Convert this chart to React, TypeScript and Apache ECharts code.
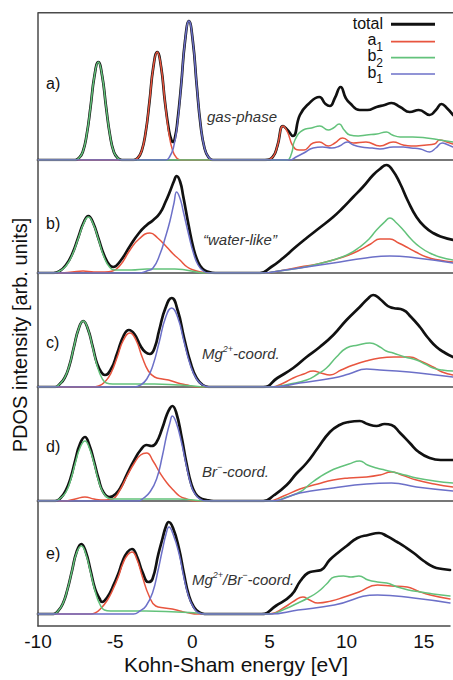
import React, { useEffect, useRef } from 'react';
import * as echarts from 'echarts';

type P = [number, number][];

// ---------- data (energy [eV], intensity [arb. units]) ----------
const X_TICKS = [-10, -5, 0, 5, 10, 15];
const LEGEND_NAMES = ['total', 'a₁', 'b₂', 'b₁'];
const LEGEND_LABELS = ['total', 'a{sub|1}', 'b{sub|2}', 'b{sub|1}'];
const PANEL_LETTERS = ['a)', 'b)', 'c)', 'd)', 'e)'];
const PANEL_NAMES = ['gas-phase', '“water-like”', 'Mg{sup|2+}-coord.', 'Br{sup|−}-coord.', 'Mg{sup|2+}/Br{sup|−}-coord.'];

// panel a) gas-phase
const A_TOTAL: P = [[-10,0],[-7.6,0],[-7.37,2],[-7.12,8],[-6.87,25],[-6.62,53],[-6.37,84],[-6.12,98],[-5.87,84],[-5.62,53],[-5.37,25],[-5.12,8],[-4.87,2],[-4.6,0],[-3.85,0],[-3.58,2],[-3.33,9],[-3.08,27],[-2.83,58],[-2.58,93],[-2.33,108],[-2.08,93],[-1.83,58],[-1.58,30],[-1.42,20],[-1.31,18],[-1.18,23],[-1.04,37],[-0.79,75],[-0.54,119],[-0.29,139],[-0.04,119],[0.21,75],[0.46,35],[0.71,12],[0.96,3],[1.25,0],[4.6,0],[5.1,3],[5.4,14],[5.77,34],[6.05,30],[6.4,24],[6.85,45],[7.4,56],[8.1,63],[8.5,56],[8.78,54],[9.1,62],[9.47,73],[9.8,62],[10.06,57],[10.7,50],[11.2,50],[11.78,53],[12.3,55],[12.74,57],[13.3,53],[13.92,48],[14.5,50],[15.2,45],[15.6,50],[15.96,56],[16.3,52],[16.7,45]];
const A_A1: P = [[-10,0],[-3.85,0],[-3.58,2],[-3.33,9],[-3.08,27],[-2.83,58],[-2.58,93],[-2.33,108],[-2.08,93],[-1.83,58],[-1.58,27],[-1.33,9],[-1.08,2],[-0.8,0],[4.6,0],[5.1,3],[5.4,14],[5.77,34],[6.05,28],[6.4,14],[6.8,10],[7.1,10],[7.7,17],[8.1,18],[8.67,14],[9.1,17],[9.6,22],[10.28,17],[11.1,18],[12.0,14],[12.85,18],[13.5,15],[14.0,14],[15.0,15],[15.5,16],[15.85,20],[16.3,18],[16.7,16]];
const A_B2: P = [[-10,0],[-7.6,0],[-7.37,2],[-7.12,8],[-6.87,25],[-6.62,53],[-6.37,84],[-6.12,98],[-5.87,84],[-5.62,53],[-5.37,25],[-5.12,8],[-4.87,2],[-4.6,0],[6.0,0],[6.3,6],[6.53,20],[7.06,30],[7.6,32],[8.13,34],[8.67,30],[9.0,32],[9.38,36],[9.7,30],[10.06,25],[10.6,24],[11.14,25],[11.8,26],[12.42,28],[12.8,25],[13.3,23],[14.1,23],[15.0,22],[15.85,20],[16.7,18]];
const A_B1: P = [[-10,0],[-1.8,0],[-1.54,3],[-1.29,12],[-1.04,35],[-0.79,75],[-0.54,119],[-0.29,139],[-0.04,119],[0.21,75],[0.46,35],[0.71,12],[0.96,3],[1.25,0],[6.2,0],[6.6,3],[7.1,7],[7.7,12],[8.3,13],[8.9,12],[9.4,14],[9.9,18],[10.3,15],[10.8,13],[11.5,12],[12.0,11],[12.85,13],[13.5,13],[14.0,12],[14.6,11],[15.2,8],[15.6,12],[16.0,17],[16.4,15],[16.7,13]];

// panel b) water-like
const B_TOTAL: P = [[-10,0],[-9.0,0],[-8.6,2],[-8.2,8],[-7.8,19],[-7.4,36],[-7.05,51],[-6.76,57],[-6.45,50],[-6.1,34],[-5.75,18],[-5.4,8],[-5.16,6],[-4.7,12],[-4.08,27],[-3.5,40],[-3.0,48],[-2.58,53],[-2.15,60],[-1.8,71],[-1.5,82],[-1.25,92],[-1.08,97],[-0.85,91],[-0.66,77],[-0.3,47],[0.0,25],[0.3,11],[0.6,4],[1.0,1],[1.4,0],[4.28,0],[5.0,6],[5.77,15],[6.5,25],[7.28,35],[8.1,45],[8.99,56],[9.6,65],[10.28,76],[10.9,86],[11.56,98],[12.0,104],[12.42,108],[12.8,103],[13.28,90],[13.8,72],[14.35,56],[14.9,46],[15.42,40],[16.0,36],[16.7,33]];
const B_A1: P = [[-10,0],[-8.5,0],[-7.8,1],[-7.1,2],[-6.4,1],[-5.7,1],[-5.2,2],[-4.7,8],[-4.08,23],[-3.5,34],[-2.8,40],[-2.3,35],[-1.72,26],[-1.3,19],[-0.87,13],[-0.4,6],[0.0,3],[0.5,1],[1.0,0],[4.5,0],[5.5,2],[6.85,6],[8.0,9],[8.99,13],[10.0,18],[10.7,23],[11.4,29],[12.0,34],[12.64,34],[13.2,30],[13.71,26],[14.3,21],[15.0,16],[15.8,13],[16.7,11]];
const B_B2: P = [[-10,0],[-9.0,0],[-8.6,2],[-8.2,7],[-7.8,18],[-7.4,35],[-7.05,50],[-6.76,56],[-6.45,49],[-6.1,33],[-5.75,16],[-5.4,6],[-5.0,3],[-4.0,3],[-3.0,4],[-2.0,4],[-1.2,4],[-0.5,3],[0.2,1],[0.8,0],[4.5,0],[5.5,2],[6.85,5],[8.0,9],[8.99,13],[10.0,19],[10.7,26],[11.3,34],[11.78,43],[12.3,51],[12.64,55],[13.0,51],[13.5,43],[14.0,34],[14.57,26],[15.2,20],[15.85,16],[16.7,13]];
const B_B1: P = [[-10,0],[-3.5,0],[-3.0,2],[-2.6,5],[-2.15,19],[-1.8,36],[-1.51,52],[-1.25,70],[-1.08,81],[-0.85,74],[-0.66,62],[-0.3,38],[0.0,20],[0.3,8],[0.63,2],[1.0,0],[4.5,0],[5.5,2],[6.85,5],[9.0,10],[11.1,15],[12.64,17],[14.35,15],[16.7,10]];

// panel c) Mg2+-coord.
const C_TOTAL: P = [[-10,0],[-8.9,0],[-8.6,3],[-8.29,9],[-7.99,21],[-7.69,40],[-7.39,58],[-7.09,66],[-6.79,58],[-6.49,41],[-6.19,23],[-5.89,14],[-5.7,12],[-5.3,18],[-4.9,34],[-4.5,51],[-4.15,57],[-3.8,53],[-3.4,41],[-3.1,35],[-2.8,33],[-2.5,39],[-2.2,57],[-1.8,79],[-1.4,89],[-1.0,76],[-0.6,49],[-0.2,25],[0.2,9],[0.6,2],[1.0,0],[4.49,0],[5.4,9],[6.42,19],[7.28,30],[8.13,40],[9.0,52],[9.85,67],[10.7,80],[11.2,88],[11.56,92],[12.0,88],[12.5,81],[12.85,79],[13.5,77],[14.0,70],[14.57,60],[15.1,49],[15.64,40],[16.2,34],[16.7,30]];
const C_A1: P = [[-10,0],[-6.5,0],[-6.1,1],[-5.7,5],[-5.3,14],[-4.9,30],[-4.5,47],[-4.08,54],[-3.7,47],[-3.3,30],[-2.9,16],[-2.5,10],[-2.0,8],[-1.6,7],[-1.0,4],[-0.4,2],[0.2,0],[5.0,0],[5.8,4],[6.42,9],[7.1,13],[7.7,16],[8.2,14],[8.78,12],[9.5,17],[10.28,22],[11.1,26],[12.0,29],[12.9,30],[13.92,30],[14.6,26],[15.42,20],[16.0,15],[16.7,12]];
const C_B2: P = [[-10,0],[-8.9,0],[-8.6,3],[-8.29,9],[-7.99,21],[-7.69,40],[-7.39,58],[-7.09,66],[-6.79,58],[-6.49,40],[-6.19,21],[-5.89,9],[-5.6,4],[-5.2,3],[-4.0,3],[-2.5,3],[-1.0,2],[0.0,1],[0.6,0],[5.0,0],[6.2,3],[7.28,7],[8.0,13],[8.56,19],[9.2,30],[9.85,39],[10.6,42],[11.35,44],[12.0,40],[12.4,36],[12.85,34],[13.6,30],[14.35,27],[14.9,23],[15.42,19],[16.0,17],[16.7,16]];
const C_B1: P = [[-10,0],[-3.8,0],[-3.4,2],[-3.0,8],[-2.6,22],[-2.2,45],[-1.8,69],[-1.4,79],[-1.0,69],[-0.6,45],[-0.2,22],[0.2,8],[0.6,2],[1.0,0],[5.0,0],[6.85,4],[9.0,9],[10.0,13],[11.14,18],[12.0,17],[13.07,16],[14.5,14],[16.7,10]];

// panel d) Br−-coord.
const D_TOTAL: P = [[-10,0],[-8.9,0],[-8.55,3],[-8.2,11],[-7.9,23],[-7.6,41],[-7.3,57],[-6.98,64],[-6.7,56],[-6.4,40],[-6.1,22],[-5.8,9],[-5.4,4],[-5.0,7],[-4.6,16],[-4.3,26],[-3.8,41],[-3.4,51],[-3.01,56],[-2.7,55],[-2.4,58],[-2.0,73],[-1.72,86],[-1.5,93],[-1.36,95],[-1.1,88],[-0.76,64],[-0.45,38],[-0.12,16],[0.15,7],[0.42,3],[0.85,1],[1.3,0],[4.49,0],[5.2,6],[6.0,16],[6.6,27],[7.28,38],[8.0,53],[8.78,69],[9.4,76],[10.0,79],[10.7,80],[11.2,77],[11.78,75],[12.3,77],[12.74,76],[13.3,68],[13.92,58],[14.5,49],[15.2,43],[15.9,41],[16.7,41]];
const D_A1: P = [[-10,0],[-8.3,0],[-7.6,2],[-6.98,4],[-6.4,2],[-5.7,1],[-5.2,2],[-4.8,9],[-4.3,24],[-3.8,38],[-3.4,46],[-3.01,48],[-2.6,40],[-2.15,28],[-1.7,18],[-1.3,11],[-0.9,5],[-0.44,2],[0.1,0],[4.8,0],[5.8,5],[6.85,12],[8.0,17],[8.99,21],[10.0,23],[11.14,24],[12.0,26],[12.74,29],[13.4,26],[14.35,21],[15.5,17],[16.7,14]];
const D_B2: P = [[-10,0],[-8.9,0],[-8.55,3],[-8.2,9],[-7.9,21],[-7.6,38],[-7.3,53],[-6.98,60],[-6.7,53],[-6.4,38],[-6.1,20],[-5.8,8],[-5.5,3],[-5.2,2],[-3.0,2],[-1.0,2],[0.0,1],[0.6,0],[5.0,0],[6.0,4],[6.85,9],[7.5,17],[8.13,24],[8.8,30],[9.42,34],[10.0,37],[10.7,40],[11.2,36],[11.78,33],[12.3,31],[12.85,29],[13.6,26],[14.35,23],[15.5,20],[16.7,18]];
const D_B1: P = [[-10,0],[-3.6,0],[-3.2,3],[-2.8,9],[-2.37,22],[-2.0,45],[-1.72,66],[-1.5,79],[-1.36,85],[-1.1,78],[-0.76,58],[-0.45,35],[-0.12,14],[0.15,6],[0.42,2],[0.8,0],[5.0,0],[6.85,8],[8.99,13],[11.14,17],[12.74,18],[14.35,14],[16.7,10]];

// panel e) Mg2+/Br−-coord.
const E_TOTAL: P = [[-10,0],[-9.0,0],[-8.7,3],[-8.4,10],[-8.1,24],[-7.8,43],[-7.5,62],[-7.19,70],[-6.9,62],[-6.6,44],[-6.3,25],[-6.0,15],[-5.85,12],[-5.5,17],[-5.16,27],[-4.8,40],[-4.51,53],[-4.2,62],[-3.91,65],[-3.6,58],[-3.23,42],[-2.84,32],[-2.58,35],[-2.2,60],[-1.94,75],[-1.7,88],[-1.53,92],[-1.25,86],[-0.87,66],[-0.55,41],[-0.23,19],[0.1,7],[0.42,2],[0.8,0],[4.49,0],[5.4,8],[6.42,19],[7.0,33],[7.49,41],[8.0,43],[8.35,44],[8.9,54],[9.42,61],[10.0,68],[10.7,76],[11.4,79],[12.1,81],[12.6,78],[13.28,72],[13.8,67],[14.35,61],[15.0,53],[15.64,47],[16.2,45],[16.7,44]];
const E_A1: P = [[-10,0],[-6.6,0],[-6.3,1],[-5.9,6],[-5.5,14],[-5.16,24],[-4.8,37],[-4.51,50],[-4.2,59],[-3.91,62],[-3.6,55],[-3.23,37],[-2.8,18],[-2.37,8],[-1.8,6],[-1.3,5],[-0.8,3],[-0.2,1],[0.3,0],[5.0,0],[6.0,7],[6.6,13],[7.17,17],[7.6,14],[8.13,11],[9.0,13],[9.85,17],[10.8,22],[12.0,29],[12.9,28],[13.92,27],[14.6,23],[15.42,19],[16.7,15]];
const E_B2: P = [[-10,0],[-9.0,0],[-8.7,3],[-8.4,10],[-8.1,24],[-7.8,43],[-7.5,61],[-7.19,68],[-6.9,60],[-6.6,42],[-6.3,23],[-6.0,10],[-5.7,4],[-5.3,3],[-3.0,3],[-1.0,2],[0.3,1],[0.8,0],[5.0,0],[6.0,5],[6.85,11],[7.5,16],[8.13,22],[8.7,30],[9.2,37],[9.8,38],[10.28,37],[10.8,38],[11.4,34],[12.0,32],[12.6,31],[13.28,27],[14.0,24],[14.78,22],[15.6,20],[16.7,18]];
const E_B1: P = [[-10,0],[-3.8,0],[-3.4,3],[-3.0,8],[-2.58,21],[-2.2,45],[-1.94,64],[-1.7,80],[-1.51,87],[-1.25,80],[-0.87,61],[-0.55,37],[-0.23,17],[0.1,6],[0.42,1],[0.8,0],[5.0,0],[6.85,4],[9.2,9],[12.0,19],[14.35,16],[16.7,11]];

const PANEL_DATA: P[][] = [
  [A_TOTAL, A_A1, A_B2, A_B1],
  [B_TOTAL, B_A1, B_B2, B_B1],
  [C_TOTAL, C_A1, C_B2, C_B1],
  [D_TOTAL, D_A1, D_B2, D_B1],
  [E_TOTAL, E_A1, E_B2, E_B1],
];

// ---------- layout & style ----------
const FONT = '"Liberation Sans", Arial, Helvetica, sans-serif';
const LEFT = 38;
const PANEL_TOP = [12.7, 160, 273, 387, 501];
const PANEL_BOTTOM = [160, 273, 387, 501, 626];
const PANEL_YMIN = [0, 0, 0, 0, -12];
const LETTER_Y = [83, 223, 342, 446, 553];
const NAME_POS: [number, number][] = [[207, 116], [203, 239], [202, 353], [202, 471], [192, 579]];
const COLORS = ['#111111', '#e8553f', '#63c27b', '#6c70c8'];
const WIDTHS = [2.7, 1.5, 1.5, 1.5];
const FRAME = '#4a4a4a';
const LEGEND_Y = [24.3, 41.7, 57.7, 74];

function buildOption(): echarts.EChartsOption {
  const grid: any[] = [];
  const xAxis: any[] = [];
  const yAxis: any[] = [];
  const series: any[] = [];
  for (let i = 0; i < 5; i++) {
    const h = PANEL_BOTTOM[i] - PANEL_TOP[i];
    grid.push({ left: LEFT, right: 0, top: PANEL_TOP[i], height: h });
    xAxis.push({
      type: 'value', gridIndex: i, min: -10, max: 16.7, interval: 5,
      axisLine: { show: true, onZero: false, lineStyle: { color: FRAME, width: 1.5 } },
      axisTick: { show: false }, splitLine: { show: false },
      axisLabel: {
        show: i === 4, margin: 6, color: '#111', fontSize: 19, fontFamily: FONT,
        formatter: (v: number) => (X_TICKS.includes(v) ? String(v) : ''),
      },
    });
    yAxis.push({
      type: 'value', gridIndex: i, min: PANEL_YMIN[i], max: PANEL_YMIN[i] + h,
      axisLine: { show: true, onZero: false, lineStyle: { color: FRAME, width: 1.5 } },
      axisTick: { show: false }, splitLine: { show: false }, axisLabel: { show: false },
    });
    PANEL_DATA[i].forEach((d, k) => {
      series.push({
        type: 'line', name: LEGEND_NAMES[k], xAxisIndex: i, yAxisIndex: i,
        data: d, smooth: 0.5, showSymbol: false, symbol: 'none',
        lineStyle: { color: COLORS[k], width: WIDTHS[k], join: 'round', cap: 'round' }, z: 2 + k, silent: true,
      });
    });
  }

  const graphics: any[] = [
    { type: 'line', shape: { x1: LEFT, y1: PANEL_TOP[0], x2: 453, y2: PANEL_TOP[0] }, style: { stroke: FRAME, lineWidth: 1.5 } },
    {
      type: 'text', x: 20, y: 335, rotation: Math.PI / 2,
      style: { text: 'PDOS intensity [arb. units]', fontSize: 20, fontFamily: FONT, fill: '#111', textAlign: 'center', textVerticalAlign: 'middle' },
    },
    {
      type: 'text', x: 236, y: 664,
      style: { text: 'Kohn-Sham energy [eV]', fontSize: 21, fontFamily: FONT, fill: '#111', textAlign: 'center', textVerticalAlign: 'middle' },
    },
  ];
  for (let i = 0; i < 5; i++) {
    graphics.push({
      type: 'text', x: 46, y: LETTER_Y[i],
      style: { text: PANEL_LETTERS[i], fontSize: 16, fontFamily: FONT, fill: '#111', textAlign: 'left', textVerticalAlign: 'middle' },
    });
    graphics.push({
      type: 'text', x: NAME_POS[i][0], y: NAME_POS[i][1],
      style: {
        text: PANEL_NAMES[i], fontSize: 15, fontStyle: 'italic', fontFamily: FONT, fill: '#333',
        textAlign: 'left', textVerticalAlign: 'middle',
        rich: {
          sup: { fontSize: 9, fontStyle: 'italic', fontFamily: FONT, fill: '#333', verticalAlign: 'top', lineHeight: 18 },
        },
        lineHeight: 18,
      },
    });
  }
  LEGEND_LABELS.forEach((n, k) => {
    graphics.push({
      type: 'text', x: 383, y: LEGEND_Y[k] - (k === 0 ? 1 : 2),
      style: {
        text: n, fontSize: 16, fontFamily: FONT, fill: '#111', textAlign: 'right', textVerticalAlign: 'middle',
        lineHeight: 18,
        rich: { sub: { fontSize: 12, fontFamily: FONT, fill: '#111', verticalAlign: 'bottom', lineHeight: 14, padding: [0, 0, -4, 0] } },
      },
    });
    graphics.push({
      type: 'line', shape: { x1: 391, y1: LEGEND_Y[k], x2: 435, y2: LEGEND_Y[k] },
      style: { stroke: COLORS[k], lineWidth: WIDTHS[k] + 0.2 },
    });
  });

  return { animation: false, backgroundColor: '#ffffff', grid, xAxis, yAxis, series, graphic: graphics };
}

export default function App() {
  const ref = useRef<HTMLDivElement>(null);
  useEffect(() => {
    if (!ref.current) return;
    const chart = echarts.init(ref.current, null, { renderer: 'svg' });
    chart.setOption(buildOption());
    return () => chart.dispose();
  }, []);
  return (
    <div
      ref={ref}
      style={{ position: 'fixed', left: 0, top: 0, width: 453, height: 680, background: '#fff' }}
    />
  );
}
